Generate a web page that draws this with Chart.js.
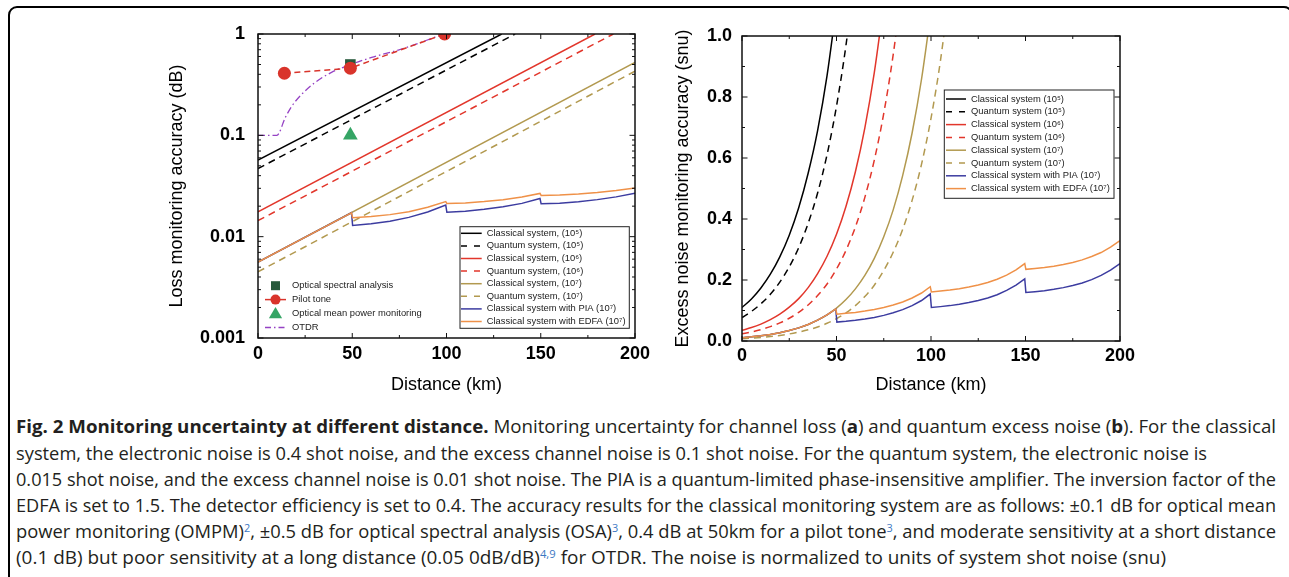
<!DOCTYPE html>
<html>
<head>
<meta charset="utf-8">
<script src="https://cdn.jsdelivr.net/npm/chart.js@4.4.0/dist/chart.umd.min.js"></script>
<style>
  html, body { margin: 0; padding: 0; background: #fff; }
  body { width: 1289px; height: 577px; position: relative; overflow: hidden; }
  #frame { position: absolute; left: 8px; top: 6px; width: 1285px; height: 620px;
           border: 2px solid #000; border-radius: 9px; box-sizing: border-box; }
  canvas { position: absolute; }
  #loss { left: 150px; top: 20px; }
  #noise { left: 660px; top: 20px; }
  .cap { position: absolute; left: 16px; white-space: nowrap; font-family: 'Open Sans', sans-serif;
         font-size: 18.5px; line-height: 26px; color: #231f20; transform-origin: 0 50%; }
  .cap b { font-weight: 700; }
  .cap sup { color: #3b78c3; font-size: 11px; line-height: 0; vertical-align: 0.55em; }
</style>
</head>
<body>
<div id="frame"></div>
<canvas id="loss" width="500" height="380"></canvas>
<canvas id="noise" width="480" height="380"></canvas>

<div class="cap" style="top:413px"><b>Fig. 2 Monitoring uncertainty at different distance.</b> Monitoring uncertainty for channel loss (<b>a</b>) and quantum excess noise (<b>b</b>). For the classical</div>
<div class="cap" style="top:439.5px">system, the electronic noise is 0.4 shot noise, and the excess channel noise is 0.1 shot noise. For the quantum system, the electronic noise is</div>
<div class="cap" style="top:466px">0.015 shot noise, and the excess channel noise is 0.01 shot noise. The PIA is a quantum-limited phase-insensitive amplifier. The inversion factor of the</div>
<div class="cap" style="top:492px">EDFA is set to 1.5. The detector efficiency is set to 0.4. The accuracy results for the classical monitoring system are as follows: ±0.1 dB for optical mean</div>
<div class="cap" style="top:518px">power monitoring (OMPM)<sup>2</sup>, ±0.5 dB for optical spectral analysis (OSA)<sup>3</sup>, 0.4 dB at 50km for a pilot tone<sup>3</sup>, and moderate sensitivity at a short distance</div>
<div class="cap" style="top:544px">(0.1 dB) but poor sensitivity at a long distance (0.05 0dB/dB)<sup>4,9</sup> for OTDR. The noise is normalized to units of system shot noise (snu)</div>

<script>
// ---- (a) channel loss monitoring accuracy (dB), log axis ----
const kmTicks = [0, 50, 100, 150, 200];
const kmLabels = ['0', '50', '100', '150', '200'];
const kmMinor = [25, 75, 125, 175];
const lossTicks = [0.001, 0.01, 0.1, 1];
const lossLabels = ['0.001', '0.01', '0.1', '1'];

const lossCls5X = [0, 129.3];  const lossCls5Y = [0.057, 1];
const lossQnt5X = [0, 136.4];  const lossQnt5Y = [0.047, 1];
const lossCls6X = [0, 178.8];  const lossCls6Y = [0.0176, 1];
const lossQnt6X = [0, 188.5];  const lossQnt6Y = [0.0144, 1];
const lossCls7X = [0, 200];    const lossCls7Y = [0.0056, 0.525];
const lossQnt7X = [0, 200];    const lossQnt7Y = [0.0045, 0.43];
const lossAmpX = [0, 49.6, 50.2, 60, 70, 80, 90, 99.6, 100.2, 110, 120, 130, 140, 149.6, 150.2, 160, 170, 180, 190, 200];
const lossPiaY = [0.0056, 0.0172, 0.0129, 0.0134, 0.0142, 0.0155, 0.0175, 0.0205, 0.0174, 0.0178, 0.0186, 0.0197, 0.0213, 0.0238, 0.0211, 0.0214, 0.0221, 0.0232, 0.0247, 0.0269];
const lossEdfaY = [0.0056, 0.0172, 0.0154, 0.0158, 0.0165, 0.0176, 0.0195, 0.0222, 0.0212, 0.0215, 0.0222, 0.0232, 0.0246, 0.0267, 0.0255, 0.0258, 0.0264, 0.0273, 0.0286, 0.0303];

const pilotX = [14, 49, 99];     const pilotY = [0.41, 0.46, 1.0];
const osaX = [49];               const osaY = [0.5];
const ompmX = [49];              const ompmY = [0.1];
const otdrX = [0, 10, 14.5, 18, 23.3, 30.3, 39, 49.2, 60.3, 74.4, 86.8, 93.9, 100];
const otdrY = [0.1, 0.1, 0.15, 0.195, 0.255, 0.333, 0.418, 0.5, 0.587, 0.695, 0.83, 0.93, 1.0];

const lossSeriesNames = ['Classical system, (10⁵)', 'Quantum system, (10⁵)', 'Classical system, (10⁶)', 'Quantum system, (10⁶)',
  'Classical system, (10⁷)', 'Quantum system, (10⁷)', 'Classical system with PIA (10⁷)', 'Classical system with EDFA (10⁷)'];
const markerNames = ['Optical spectral analysis', 'Pilot tone', 'Optical mean power monitoring', 'OTDR'];

// ---- (b) excess noise monitoring accuracy (snu) ----
const noiseTicks = [0, 0.2, 0.4, 0.6, 0.8, 1.0];
const noiseLabels = ['0.0', '0.2', '0.4', '0.6', '0.8', '1.0'];
const noiseMinor = [0.1, 0.3, 0.5, 0.7, 0.9];

const noiseCls5X = [0, 5, 10, 15, 20, 25, 30, 35, 40, 45, 50];
const noiseCls5Y = [0.110, 0.138, 0.174, 0.219, 0.276, 0.347, 0.437, 0.550, 0.690, 0.870, 1.10];
const noiseQnt5X = [0, 5, 10, 15, 20, 25, 30, 35, 40, 45, 50, 55, 60];
const noiseQnt5Y = [0.077, 0.097, 0.122, 0.153, 0.193, 0.243, 0.306, 0.386, 0.485, 0.611, 0.770, 0.969, 1.22];
const noiseCls6X = [0, 5, 10, 15, 20, 25, 30, 35, 40, 45, 50, 55, 60, 65, 70, 75];
const noiseCls6Y = [0.035, 0.044, 0.0555, 0.070, 0.088, 0.111, 0.139, 0.175, 0.221, 0.278, 0.350, 0.441, 0.555, 0.699, 0.880, 1.107];
const noiseQnt6X = [0, 5, 10, 15, 20, 25, 30, 35, 40, 45, 50, 55, 60, 65, 70, 75, 80, 85];
const noiseQnt6Y = [0.0236, 0.0297, 0.0374, 0.0471, 0.0593, 0.0746, 0.0939, 0.118, 0.149, 0.187, 0.236, 0.297, 0.374, 0.471, 0.593, 0.746, 0.939, 1.18];
const noiseCls7X = [0, 5, 10, 15, 20, 25, 30, 35, 40, 45, 50, 55, 60, 65, 70, 75, 80, 85, 90, 95, 100];
const noiseCls7Y = [0.0108, 0.0136, 0.0171, 0.0215, 0.0271, 0.0342, 0.0430, 0.0542, 0.0682, 0.0859, 0.108, 0.136, 0.171, 0.215, 0.271, 0.342, 0.430, 0.542, 0.682, 0.859, 1.08];
const noiseQnt7X = [0, 5, 10, 15, 20, 25, 30, 35, 40, 45, 50, 55, 60, 65, 70, 75, 80, 85, 90, 95, 100, 105, 110];
const noiseQnt7Y = [0.0073, 0.0092, 0.0116, 0.0146, 0.0183, 0.0231, 0.0291, 0.0366, 0.0461, 0.0580, 0.0730, 0.0919, 0.116, 0.146, 0.183, 0.231, 0.291, 0.366, 0.461, 0.580, 0.730, 0.919, 1.16];
const noiseAmpX = [0, 5, 10, 15, 20, 25, 30, 35, 40, 45, 49.6,
  50.2, 55, 60, 65, 70, 75, 80, 85, 90, 95, 99.6,
  100.2, 105, 110, 115, 120, 125, 130, 135, 140, 145, 149.6,
  150.2, 155, 160, 165, 170, 175, 180, 185, 190, 195, 200];
const noisePiaY = [0.0108, 0.0136, 0.0171, 0.0215, 0.0271, 0.0342, 0.0430, 0.0542, 0.0682, 0.0859, 0.105,
  0.062, 0.0646, 0.068, 0.0722, 0.0774, 0.084, 0.0924, 0.1029, 0.116, 0.1328, 0.154,
  0.110, 0.1127, 0.116, 0.1204, 0.126, 0.1326, 0.141, 0.1518, 0.166, 0.1834, 0.204,
  0.159, 0.1617, 0.165, 0.1695, 0.175, 0.1818, 0.190, 0.2013, 0.215, 0.2322, 0.254];
const noiseEdfaY = [0.0108, 0.0136, 0.0171, 0.0215, 0.0271, 0.0342, 0.0430, 0.0542, 0.0682, 0.0859, 0.105,
  0.088, 0.0906, 0.0938, 0.098, 0.1031, 0.1096, 0.1178, 0.1281, 0.141, 0.1574, 0.178,
  0.161, 0.1637, 0.167, 0.1713, 0.1767, 0.1834, 0.1919, 0.2026, 0.216, 0.2329, 0.254,
  0.235, 0.2377, 0.241, 0.2454, 0.251, 0.2576, 0.266, 0.2769, 0.290, 0.3075, 0.329];

const noiseSeriesNames = ['Classical system (10⁵)', 'Quantum system (10⁵)', 'Classical system (10⁶)', 'Quantum system (10⁶)',
  'Classical system (10⁷)', 'Quantum system (10⁷)', 'Classical system with PIA (10⁷)', 'Classical system with EDFA (10⁷)'];

// ---- styling ----
const BLACK = '#000000', RED = '#e2362b', OLIVE = '#b2994f', BLUE = '#3c3ca0', ORANGE = '#ef9148';
const PURPLE = '#9542c4', PILOT = '#d9342b', OSA = '#285a3c', OMPM = '#35a565';
const DASH = [7, 5];
const FONT = '"Liberation Sans", Arial, sans-serif';
const seriesColors = [BLACK, BLACK, RED, RED, OLIVE, OLIVE, BLUE, ORANGE];
const seriesDash = [[], DASH, [], DASH, [], DASH, [], []];

const pts = (xs, ys) => xs.map((x, i) => ({ x: x, y: ys[i] }));
function curve(label, xs, ys, color, dash, smooth) {
  return {
    label: label, data: pts(xs, ys), borderColor: color, backgroundColor: color,
    borderWidth: 1.5, borderDash: dash, pointRadius: 0, fill: false,
    tension: 0, cubicInterpolationMode: smooth ? 'monotone' : 'default'
  };
}

function drawMarker(ctx, style, x, y, r, color) {
  ctx.fillStyle = color;
  ctx.beginPath();
  if (style === 'circle') ctx.arc(x, y, r, 0, Math.PI * 2);
  if (style === 'rect') ctx.rect(x - r, y - r, 2 * r, 2 * r);
  if (style === 'triangle') { ctx.moveTo(x, y - r * 1.1); ctx.lineTo(x + r * 1.1, y + r * 0.8); ctx.lineTo(x - r * 1.1, y + r * 0.8); ctx.closePath(); }
  ctx.fill();
}

// frame + inward ticks on all four sides, legends
const frameTicks = {
  id: 'frameTicks',
  afterDatasetsDraw(chart, args, o) {
    const { ctx, chartArea: a, scales: { x, y } } = chart;
    ctx.save();
    ctx.strokeStyle = '#111';
    ctx.lineWidth = 1;
    ctx.setLineDash([]);
    const seg = (x1, y1, x2, y2) => { ctx.beginPath(); ctx.moveTo(x1, y1); ctx.lineTo(x2, y2); ctx.stroke(); };
    const xt = (v, len) => { const p = x.getPixelForValue(v); seg(p, a.bottom, p, a.bottom - len); seg(p, a.top, p, a.top + len); };
    const yt = (v, len) => { const p = y.getPixelForValue(v); seg(a.left, p, a.left + len, p); seg(a.right, p, a.right - len, p); };
    o.xMajor.forEach(v => xt(v, 5));
    o.xMinor.forEach(v => xt(v, 3));
    o.yMajor.forEach(v => yt(v, 5.5));
    o.yMinor.forEach(v => yt(v, 3));
    ctx.lineWidth = 1.5;
    ctx.strokeRect(a.left, a.top, a.right - a.left, a.bottom - a.top);

    ctx.font = '9.4px ' + FONT;
    ctx.textBaseline = 'middle';
    (o.legends || []).forEach(L => {
      if (L.box) {
        ctx.fillStyle = '#fff';
        ctx.fillRect(L.x, L.y, L.w, L.h);
        ctx.strokeStyle = '#222';
        ctx.lineWidth = 1;
        ctx.setLineDash([]);
        ctx.strokeRect(L.x, L.y, L.w, L.h);
      }
      L.items.forEach((it, i) => {
        const yy = L.y + L.first + i * L.step;
        if (it.color && it.line !== false) {
          ctx.strokeStyle = it.color;
          ctx.lineWidth = 1.5;
          ctx.setLineDash(it.dash || []);
          seg(L.x + L.s0, yy, L.x + L.s1, yy);
          ctx.setLineDash([]);
        }
        if (it.marker) drawMarker(ctx, it.marker, L.x + (L.s0 + L.s1) / 2, yy, it.r, it.mcolor);
        ctx.fillStyle = '#222';
        ctx.fillText(it.label, L.x + L.tx, yy);
      });
    });
    ctx.restore();
  }
};

const tickFont = { family: FONT, size: 18, weight: 'bold' };
const titleFont = { family: FONT, size: 18 };

function xAxis(height, pad) {
  return {
    type: 'linear', min: 0, max: 200,
    grid: { display: false, drawTicks: false }, border: { display: false },
    afterBuildTicks: s => { s.ticks = kmTicks.map(v => ({ value: v })); },
    afterFit: s => { s.height = height; s.paddingLeft = 0; s.paddingRight = 0; },
    ticks: { font: tickFont, color: '#000', padding: pad, maxRotation: 0, autoSkip: false, callback: (v, i) => kmLabels[i] },
    title: { display: true, text: 'Distance (km)', font: titleFont, color: '#000', padding: { top: 0, bottom: 4 } }
  };
}

// ---------- chart (a) ----------
const lossMinor = [];
lossTicks.slice(0, 3).forEach(d => { for (let k = 2; k <= 9; k++) lossMinor.push(k * d); });

const lossSeries = [
  [lossCls5X, lossCls5Y], [lossQnt5X, lossQnt5Y], [lossCls6X, lossCls6Y], [lossQnt6X, lossQnt6Y],
  [lossCls7X, lossCls7Y], [lossQnt7X, lossQnt7Y], [lossAmpX, lossPiaY], [lossAmpX, lossEdfaY]
];

const lossDatasets = [
  { label: markerNames[1], data: pts(pilotX, pilotY), borderColor: PILOT, borderWidth: 1.5, borderDash: [6, 4],
    pointRadius: 6.5, pointBackgroundColor: PILOT, pointBorderWidth: 0, tension: 0, fill: false },
  { label: markerNames[0], data: pts(osaX, osaY), showLine: false, pointStyle: 'rect', pointRadius: 7.5,
    pointBackgroundColor: OSA, pointBorderWidth: 0 },
  { label: markerNames[2], data: pts(ompmX, ompmY), showLine: false, pointStyle: 'triangle', pointRadius: 8.5,
    pointBackgroundColor: OMPM, pointBorderWidth: 0 },
  Object.assign(curve(markerNames[3], otdrX, otdrY, PURPLE, [7, 3, 1.5, 3], true), { borderWidth: 1.3 })
].concat(lossSeries.map((s, i) => curve(lossSeriesNames[i], s[0], s[1], seriesColors[i], seriesDash[i], false)).reverse());

new Chart(document.getElementById('loss'), {
  type: 'line',
  data: { datasets: lossDatasets },
  options: {
    responsive: false, animation: false, events: [],
    layout: { padding: { top: 14, right: 15, left: 0, bottom: 0 } },
    plugins: {
      legend: { display: false }, tooltip: { enabled: false },
      frameTicks: {
        xMajor: kmTicks, xMinor: kmMinor, yMajor: lossTicks, yMinor: lossMinor,
        legends: [
          { box: true, x: 310, y: 206.7, w: 169.3, h: 101.6, first: 6.6, step: 12.6, s0: 1, s1: 21.7, tx: 26.7,
            items: lossSeriesNames.map((n, i) => ({ label: n, color: seriesColors[i], dash: seriesDash[i].length ? [6, 7] : [] })) },
          { box: false, x: 115, y: 259, first: 6.7, step: 13.9, s0: 0, s1: 21, tx: 27,
            items: [
              { label: markerNames[0], line: false, marker: 'rect', r: 4.5, mcolor: OSA },
              { label: markerNames[1], color: PILOT, marker: 'circle', r: 5, mcolor: PILOT },
              { label: markerNames[2], line: false, marker: 'triangle', r: 6, mcolor: OMPM },
              { label: markerNames[3], color: PURPLE, dash: [6, 3, 1.5, 3] }
            ] }
        ]
      }
    },
    scales: {
      x: xAxis(62, 5),
      y: {
        type: 'logarithmic', min: 0.001, max: 1,
        grid: { display: false, drawTicks: false }, border: { display: false },
        afterBuildTicks: s => { s.ticks = lossTicks.map(v => ({ value: v })); },
        afterFit: s => { s.width = 108; s.paddingTop = 0; s.paddingBottom = 0; },
        ticks: { font: tickFont, color: '#000', padding: 13, autoSkip: false, callback: (v, i) => lossLabels[i] },
        title: { display: true, text: 'Loss monitoring accuracy (dB)', font: titleFont, color: '#000', padding: { top: 16, bottom: 0 } }
      }
    }
  },
  plugins: [frameTicks]
});

// ---------- chart (b) ----------
const noiseSeries = [
  [noiseCls5X, noiseCls5Y], [noiseQnt5X, noiseQnt5Y], [noiseCls6X, noiseCls6Y], [noiseQnt6X, noiseQnt6Y],
  [noiseCls7X, noiseCls7Y], [noiseQnt7X, noiseQnt7Y], [noiseAmpX, noisePiaY], [noiseAmpX, noiseEdfaY]
];

new Chart(document.getElementById('noise'), {
  type: 'line',
  data: { datasets: noiseSeries.map((s, i) => curve(noiseSeriesNames[i], s[0], s[1], seriesColors[i], seriesDash[i], i < 6)).reverse() },
  options: {
    responsive: false, animation: false, events: [],
    layout: { padding: { top: 16, right: 20, left: 0, bottom: 0 } },
    plugins: {
      legend: { display: false }, tooltip: { enabled: false },
      frameTicks: {
        xMajor: kmTicks, xMinor: kmMinor, yMajor: noiseTicks, yMinor: noiseMinor,
        legends: [
          { box: true, x: 284.3, y: 70, w: 169.7, h: 108.3, first: 9, step: 12.8, s0: 1.7, s1: 21.7, tx: 26.7,
            items: noiseSeriesNames.map((n, i) => ({ label: n, color: seriesColors[i], dash: seriesDash[i].length ? [6, 7] : [] })) }
        ]
      }
    },
    scales: {
      x: xAxis(59, 4),
      y: {
        type: 'linear', min: 0, max: 1,
        grid: { display: false, drawTicks: false }, border: { display: false },
        afterBuildTicks: s => { s.ticks = noiseTicks.map(v => ({ value: v })); },
        afterFit: s => { s.width = 82; s.paddingTop = 0; s.paddingBottom = 0; },
        ticks: { font: tickFont, color: '#000', padding: 10, autoSkip: false, callback: (v, i) => noiseLabels[i] },
        title: { display: true, text: 'Excess noise monitoring accuracy (snu)', font: titleFont, color: '#000', padding: { top: 12, bottom: 0 } }
      }
    }
  },
  plugins: [frameTicks]
});

// squeeze caption lines to the widths of the condensed original
const capWidths = [1260, 1191, 1260, 1260, 1260, 1150];
document.querySelectorAll('.cap').forEach((el, i) => {
  const w = el.getBoundingClientRect().width;
  el.style.transform = 'scaleX(' + (capWidths[i] / w) + ')';
});
</script>
</body>
</html>
